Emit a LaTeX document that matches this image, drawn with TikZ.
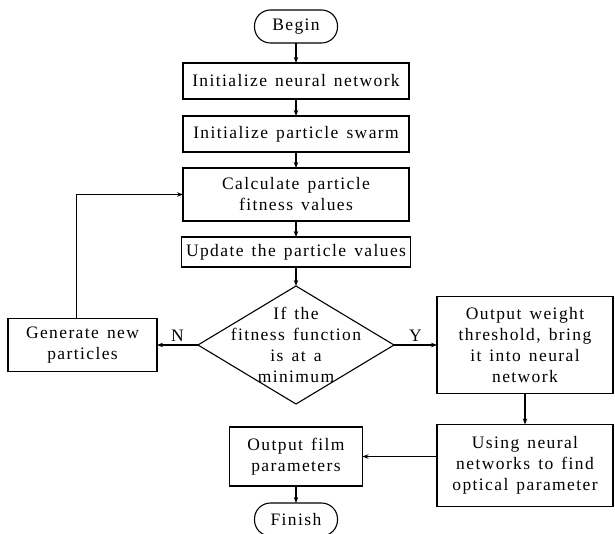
\documentclass[tikz,border=0pt]{standalone}
\usepackage{fontspec}
\setmainfont{Liberation Serif}[LetterSpace=8, WordSpace=1.4]
\usetikzlibrary{arrows.meta,positioning,shapes.geometric}

\newcommand{\flowfont}{\fontsize{17.5}{21}\selectfont}

\begin{document}
\begin{tikzpicture}[
    x=1pt, y=1pt,
    box/.style={draw, line width=1.1pt, outer sep=0pt, minimum width=226pt, minimum height=36pt, inner sep=3pt, align=center, font=\flowfont},
    term/.style={draw, line width=1.1pt, outer sep=0pt, rounded corners=16pt, minimum width=83pt, minimum height=33pt, inner sep=2pt, font=\flowfont},
    decision/.style={draw, line width=1.1pt, outer sep=0pt, diamond, minimum width=196pt, minimum height=118pt, inner sep=0pt},
    lbl/.style={font=\flowfont, above},
    >={Stealth[length=6pt,width=4.5pt]}
]
\useasboundingbox (0,0) rectangle (615,-534);

% main column
\node[term] (begin) at (296,-26.5) {Begin};
\node[box, below=20pt of begin] (initnet) {Initialize neural network};
\node[box, below=17pt of initnet] (initswarm) {Initialize particle swarm};
\node[box, below=16pt of initswarm, minimum height=53pt] (fitness) {Calculate particle\\fitness values};
\node[box, below=16pt of fitness, minimum width=229pt, minimum height=30pt] (update) {Update the particle values};
\node[decision, below=19pt of update] (cond) {};
\node[font=\flowfont, align=center] (condtext) at (cond) {If the\\fitness function\\is at a\\minimum};

% side branches
\node[box, left=41pt of cond, minimum width=149pt, minimum height=53pt] (newgen) {Generate new\\particles};
\node[box, right=43pt of cond, minimum width=176pt, minimum height=97pt] (weights) {Output weight\\threshold, bring\\it into neural\\network};
\node[box, below=31pt of weights, minimum width=176pt, minimum height=82pt] (optical) {Using neural\\networks to find\\optical parameter};
\node[box, below=23pt of cond, minimum width=133pt, minimum height=59pt] (film) {Output film\\parameters};
\node[term, below=17pt of film] (finish) {Finish};

\draw[line width=1.1pt, ->] (begin) -- (initnet);
\draw[line width=1.1pt, ->] (initnet) -- (initswarm);
\draw[line width=1.1pt, ->] (initswarm) -- (fitness);
\draw[line width=1.1pt, ->] (fitness) -- (update);
\draw[line width=1.1pt, ->] (update) -- (cond);
\draw[line width=1.1pt, ->] (cond) -- node[lbl] {N} (newgen);
\draw[line width=1.1pt, ->] (cond) -- node[lbl] {Y} (weights);
\draw[line width=1.1pt, ->] ([xshift=-6pt]newgen.north) |- (fitness);
\draw[line width=1.1pt, ->] (weights) -- (optical);
\draw[line width=1.1pt, ->] (optical.west |- film) -- (film);
\draw[line width=1.1pt, ->] (film) -- (finish);
\end{tikzpicture}
\end{document}
